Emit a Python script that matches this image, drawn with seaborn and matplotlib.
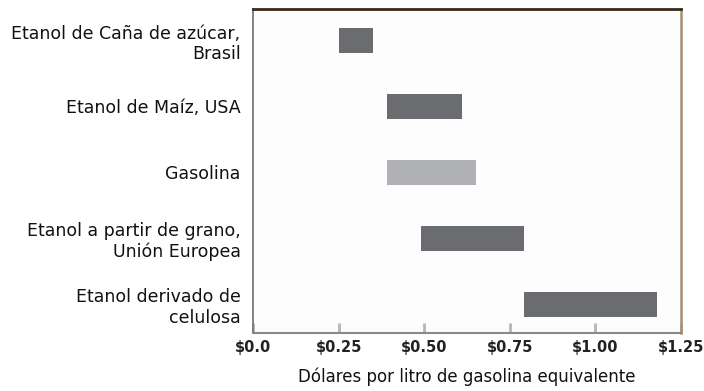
import matplotlib
matplotlib.use("Agg")
import matplotlib.pyplot as plt
import seaborn as sns
import pandas as pd

# Cost ranges (US$ per litre of gasoline equivalent)
categories = [
    "Etanol de Caña de azúcar,\nBrasil",
    "Etanol de Maíz, USA",
    "Gasolina",
    "Etanol a partir de grano,\nUnión Europea",
    "Etanol derivado de\ncelulosa",
]
cost_low = [0.25, 0.39, 0.39, 0.49, 0.79]
cost_high = [0.35, 0.61, 0.65, 0.79, 1.18]
bar_colors = ["#6b6c70", "#6b6c70", "#b0b1b4", "#6b6c70", "#6b6c70"]

x_ticks = [0.0, 0.25, 0.50, 0.75, 1.00, 1.25]
x_ticklabels = ["$0.0", "$0.25", "$0.50", "$0.75", "$1.00", "$1.25"]
x_title = "Dólares por litro de gasolina equivalente"

df = pd.DataFrame({
    "categoria": categories,
    "bajo": cost_low,
    "alto": cost_high,
})
df["rango"] = df["alto"] - df["bajo"]

sns.set_theme(style="white")
plt.rcParams["font.family"] = ["DejaVu Sans"]

fig = plt.figure(figsize=(7.04, 3.91), dpi=100)
ax = fig.add_axes([0.3594, 0.1483, 0.608, 0.8286])
ax.set_facecolor("#fdfdfd")

# one floating bar per row: starts at the low cost, spans the range
for i, row in df.iterrows():
    sns.barplot(
        data=df.iloc[[i]], y="categoria", x="rango", order=categories,
        color=bar_colors[i], saturation=1, orient="h", width=0.38,
        left=[row["bajo"]], linewidth=0, ax=ax,
    )

ax.set_xlim(0, 1.25)
ax.set_ylim(4.44, -0.48)
ax.set_xticks(x_ticks)
ax.set_xticklabels(x_ticklabels, fontsize=10.5, fontweight="bold", color="#222222")
ax.tick_params(axis="x", direction="in", length=7, width=2, color="#b5b5b5", pad=5,
               bottom=True)
ax.tick_params(axis="y", length=0, pad=9, labelsize=12.5, labelcolor="#111111")
for lbl in ax.get_yticklabels():
    lbl.set_multialignment("right")

ax.set_ylabel("")
ax.set_xlabel(x_title, fontsize=12, color="#111111", labelpad=9)

for side, col, lw in [("top", "#3b2a1a", 2.0), ("right", "#a48f6e", 1.8),
                      ("left", "#787878", 1.3), ("bottom", "#888888", 1.5)]:
    ax.spines[side].set_visible(True)
    ax.spines[side].set_color(col)
    ax.spines[side].set_linewidth(lw)

fig.savefig("out.png", dpi=100, facecolor="white")
